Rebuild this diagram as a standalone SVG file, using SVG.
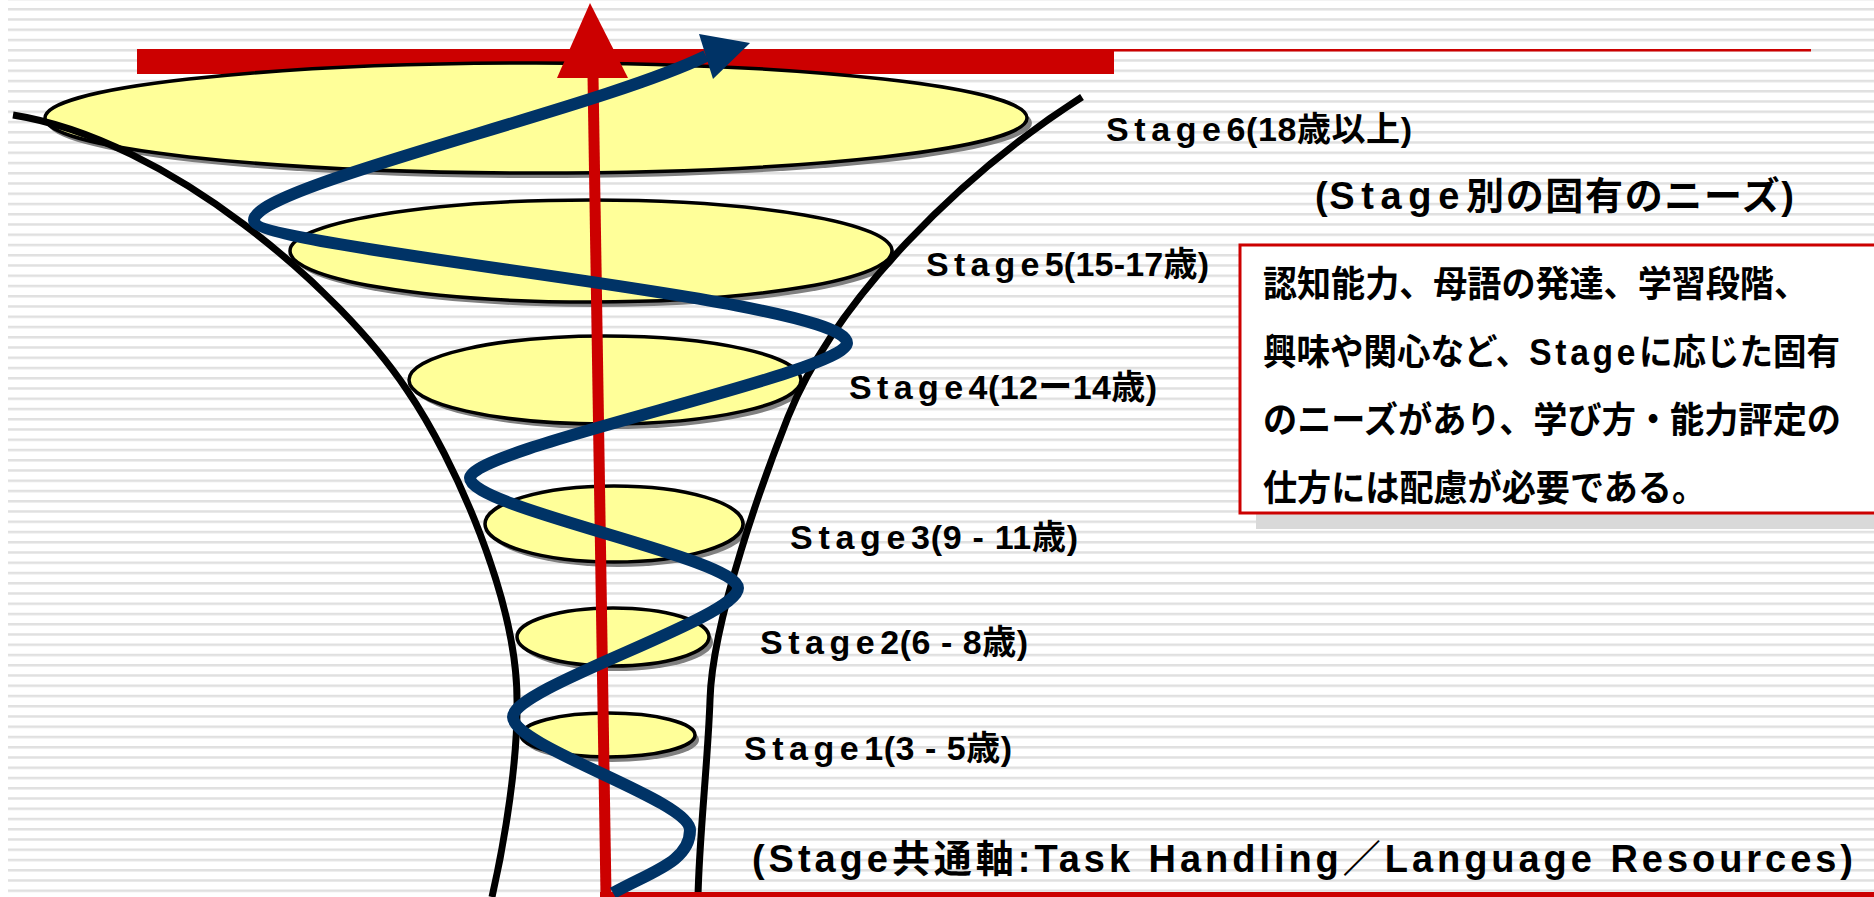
<svg xmlns="http://www.w3.org/2000/svg" width="1874" height="897" viewBox="0 0 1874 897">
<defs>
<pattern id="stripes" patternUnits="userSpaceOnUse" x="8" y="8" width="1874" height="10.25">
<rect x="0" y="0" width="1874" height="2.5" fill="#e0e0e0"/>
</pattern>
</defs>
<style>
.ell{fill:#ffff99;stroke:#000;stroke-width:3.5}
.shd{fill:#808080}
.lbl{font-family:'Liberation Sans','Noto Sans CJK JP',sans-serif;font-weight:bold;font-size:34px;fill:#000}
.big{font-size:38px}
.box{font-family:'Liberation Sans','Noto Sans CJK JP',sans-serif;font-weight:bold;font-size:36px;fill:#000}
.funnel{fill:none;stroke:#000;stroke-width:7}
.red{fill:#cc0000}
.spiral{fill:none;stroke:#003366;stroke-width:12}
</style>
<rect width="1874" height="897" fill="#fff"/>
<rect x="8" y="0" width="1866" height="897" fill="url(#stripes)"/>

<g id="top-bar">
<rect class="red" x="137" y="49" width="977" height="25"/>
<rect class="red" x="1114" y="49" width="697" height="2.5"/>
</g>

<g id="stage6">
<ellipse class="shd" cx="540" cy="123" rx="492" ry="55"/>
<ellipse class="ell" cx="536" cy="118" rx="491" ry="55"/>
<text class="lbl" x="1106" y="141" textLength="306" lengthAdjust="spacing"><tspan letter-spacing="5">Stage</tspan>6(18歳以上)</text>
</g>
<g id="stage5">
<ellipse class="shd" cx="595" cy="256" rx="301" ry="51"/>
<ellipse class="ell" cx="591" cy="251" rx="301" ry="51"/>
<text class="lbl" x="926" y="276" textLength="283" lengthAdjust="spacing"><tspan letter-spacing="5">Stage</tspan>5(15-17歳)</text>
</g>
<g id="stage4">
<ellipse class="shd" cx="609" cy="385" rx="196" ry="44"/>
<ellipse class="ell" cx="605" cy="380" rx="196" ry="44"/>
<text class="lbl" x="849" y="399" textLength="308" lengthAdjust="spacing"><tspan letter-spacing="5">Stage</tspan>4(12ー14歳)</text>
</g>
<g id="stage3">
<ellipse class="shd" cx="618" cy="529" rx="129" ry="38"/>
<ellipse class="ell" cx="614" cy="524" rx="129" ry="38"/>
<text class="lbl" x="790" y="549" textLength="288" lengthAdjust="spacing"><tspan letter-spacing="5">Stage</tspan>3(9 - 11歳)</text>
</g>
<g id="stage2">
<ellipse class="shd" cx="617" cy="642" rx="96" ry="29"/>
<ellipse class="ell" cx="613" cy="637" rx="96" ry="29"/>
<text class="lbl" x="760" y="654" textLength="268" lengthAdjust="spacing"><tspan letter-spacing="5">Stage</tspan>2(6 - 8歳)</text>
</g>
<g id="stage1">
<ellipse class="shd" cx="612" cy="740" rx="87" ry="22"/>
<ellipse class="ell" cx="608" cy="735" rx="87" ry="22"/>
<text class="lbl" x="744" y="760" textLength="268" lengthAdjust="spacing"><tspan letter-spacing="5">Stage</tspan>1(3 - 5歳)</text>
</g>

<g id="connectors">
<path class="funnel" d="M13,115 C170,140 340,290 407,390 C455,460 517,600 517,700 C518,760 505,840 492,897"/>
<path class="funnel" d="M1082,97 C960,175 835,300 788,417 C765,475 712,620 710,700 C708,760 699,840 698,897"/>
<line x1="593" y1="76" x2="606" y2="895" stroke="#cc0000" stroke-width="11"/>
<polygon class="red" points="590,3 557,78 628,78"/>
<rect class="red" x="600" y="892" width="1274" height="5"/>
<path class="spiral" d="M613,893 C650,872 690,862 690,830 C690,800 513,747 513,717 C513,687 738,618 738,588 C738,558 470,508 470,478 C470,448 847,373 847,343 C847,298 254,250 254,220 C254,186 598,109 706,56"/>
<polygon points="699,34 713,79 750,43" fill="#003366"/>
</g>

<g id="needs-title">
<text class="lbl big" x="1315" y="209" textLength="479" lengthAdjust="spacing">(<tspan letter-spacing="5">Stage</tspan>別の固有のニーズ)</text>
</g>

<g id="needs-box">
<rect x="1256" y="261" width="618" height="268" fill="#d9d9d9"/>
<rect x="1240" y="245" width="640" height="268" fill="#fff" stroke="#cc0000" stroke-width="3"/>
<text class="box" x="1263" y="297" textLength="545" lengthAdjust="spacingAndGlyphs">認知能力、母語の発達、学習段階、</text>
<text class="box" x="1263" y="365" textLength="577" lengthAdjust="spacingAndGlyphs">興味や関心など、<tspan letter-spacing="4">Stage</tspan>に応じた固有</text>
<text class="box" x="1263" y="433" textLength="578" lengthAdjust="spacingAndGlyphs">のニーズがあり、学び方・能力評定の</text>
<text class="box" x="1263" y="501" textLength="443" lengthAdjust="spacingAndGlyphs">仕方には配慮が必要である。</text>
</g>

<g id="axis-label">
<text class="lbl big" x="752" y="872" textLength="1101" lengthAdjust="spacing">(Stage共通軸:Task Handling／Language Resources)</text>
</g>
</svg>
